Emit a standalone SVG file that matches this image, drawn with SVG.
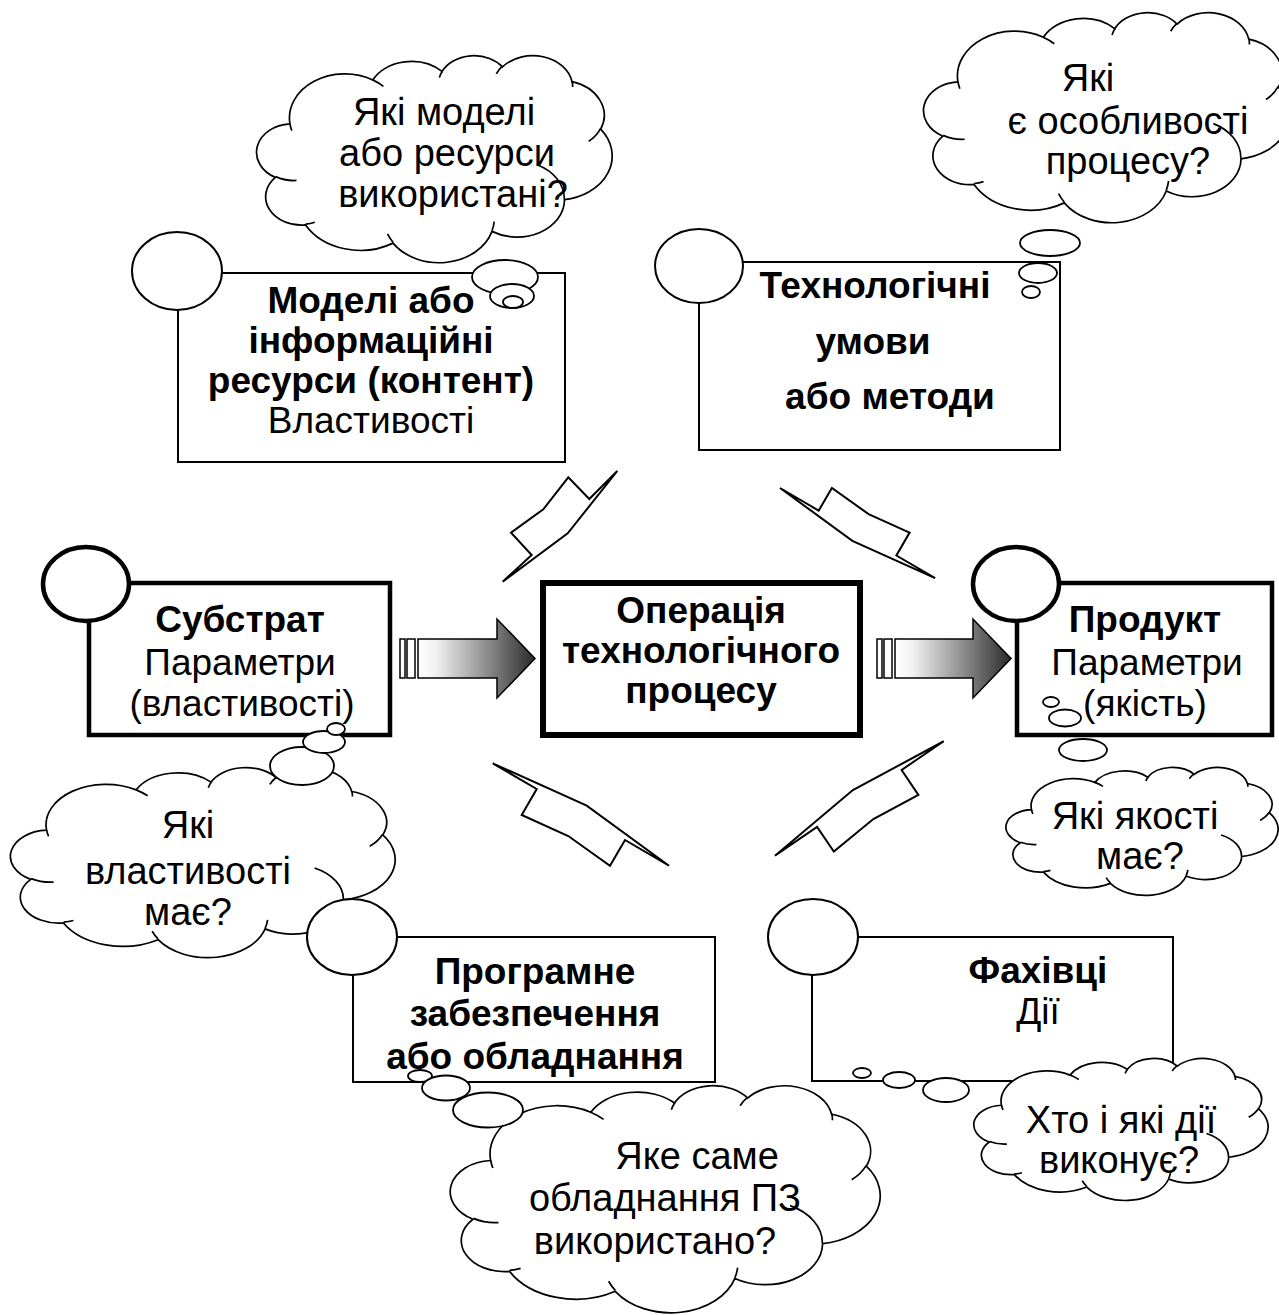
<svg xmlns="http://www.w3.org/2000/svg" xmlns:xlink="http://www.w3.org/1999/xlink" width="1279" height="1315" viewBox="0 0 1279 1315">
  <style>
    text { font-family: "Liberation Sans", Arial, sans-serif; font-size: 37px; fill: #000; text-anchor: middle; }
    .b { font-weight: bold; }
    .q { font-size: 38px; }
    .box { fill: #fff; stroke: #000; stroke-width: 2; }
    .boxT { fill: #fff; stroke: #000; stroke-width: 4.5; }
    .boxC { fill: #fff; stroke: #000; stroke-width: 6; }
    .bub { fill: #fff; stroke: #000; stroke-width: 1.8; }
    .cl { fill: #fff; stroke: #000; stroke-width: 1.7; }
    .cli { fill: none; stroke: #000; stroke-width: 1.7; }
    .bolt { fill: #fff; stroke: #000; stroke-width: 2; stroke-linejoin: miter; }
    .bar { fill: #fff; stroke: #000; stroke-width: 1.5; }
    .arr { fill: url(#arrowFill); stroke: #000; stroke-width: 1.5; }
  </style>
  <defs>
    <!-- cloud outline in a 43200 x 43200 unit box -->
    <path id="cloud" vector-effect="non-scaling-stroke" d="M3900 14370A6753 9190 0 0 1 14005 5201A5333 7267 0 0 1 22457 3431A4365 5945 0 0 1 29834 2479A4857 6595 0 0 1 38319 5573A5333 7273 0 0 1 41819 15458A6775 9220 0 0 1 37405 30200A5785 7867 0 0 1 28556 36810A6752 9215 0 0 1 16482 39263A7720 10543 0 0 1 5805 35468A4360 5918 0 0 1 2114 25545A4345 5945 0 0 1 3900 14370Z"/>
    <!-- inner hook arcs of the cloud -->
    <path id="cloudIn" vector-effect="non-scaling-stroke" d="M4693 26177A4345 5945 0 0 1 2159 25380M6928 34899A4360 5918 0 0 1 5819 35281M16478 39090A6752 9215 0 0 1 15809 37349M28827 34751A6752 9215 0 0 1 28560 36660M34129 22954A5785 7867 0 0 1 37381 30089M41798 15354A5333 7273 0 0 1 40350 18030M38324 5426A4857 6595 0 0 1 38400 6690M29078 3952A4857 6595 0 0 1 29821 2339M22141 4720A4365 5945 0 0 1 22501 3331M14000 5192A6753 9190 0 0 1 15300 6541M4127 15789A6753 9190 0 0 1 3900 14371"/>
    <linearGradient id="arrowFill" x1="0" y1="0" x2="1" y2="0">
      <stop offset="0" stop-color="#ffffff"/>
      <stop offset="0.15" stop-color="#f2f2f2"/>
      <stop offset="0.6" stop-color="#8a8a8a"/>
      <stop offset="1" stop-color="#2a2a2a"/>
    </linearGradient>
  </defs>

  <rect width="1279" height="1315" fill="#fff"/>

  <!-- connectors: lightning bolts and striped arrows -->
  <g id="connectors">
    <polygon class="bolt" points="502.7,581.7 531.7,555 511,532.7 543.3,509.3 568.3,477.3 589.3,499 617.3,471 567.7,533.3"/>
    <polygon class="bolt" points="935.1,578.1 896.4,555.5 909.6,532.6 868.6,514.1 831.9,488 818.7,510.6 780,488 852.4,540.8"/>
    <polygon class="bolt" points="492.7,763.3 536.7,789 521.7,815 568.3,836 610,865.7 625,840 669,865.7 586.7,805.7"/>
    <polygon class="bolt" transform="rotate(-4 775 856)" points="951.3,753.3 907.3,779 922.3,805 875.7,826 834,855.7 819,830 775,855.7 857.3,795.7"/>

    <g id="arrow-left">
      <rect class="bar" x="400" y="639" width="5" height="39"/>
      <rect class="bar" x="407" y="639" width="8" height="39"/>
      <path class="arr" d="M418 639H497V619L535 658.5L497 698V678H418Z"/>
    </g>
    <g id="arrow-right">
      <rect class="bar" x="877" y="639" width="5" height="39"/>
      <rect class="bar" x="884" y="639" width="8" height="39"/>
      <path class="arr" d="M895 639H973V619L1011 658.5L973 698V678H895Z"/>
    </g>
  </g>

  <!-- thought cloud: models / resources -->
  <g id="cloud-models">
    <g transform="translate(258 55) scale(0.0081944 0.0047917)">
      <use xlink:href="#cloud" class="cl"/>
      <use xlink:href="#cloudIn" class="cli"/>
    </g>
    <text class="q" x="444" y="125">Які моделі</text>
    <text class="q" x="447" y="166">або ресурси</text>
    <text class="q" x="453" y="207">використані?</text>
  </g>

  <!-- node: models or information resources -->
  <g id="node-models">
    <rect class="box" x="178" y="273" width="387" height="189"/>
    <ellipse class="box" cx="177" cy="271" rx="45" ry="39"/>
    <text class="b" x="371" y="313">Моделі або</text>
    <text class="b" x="371" y="353">інформаційні</text>
    <text class="b" x="371" y="393">ресурси (контент)</text>
    <text x="371" y="433">Властивості</text>
    <ellipse class="bub" cx="505" cy="277" rx="33" ry="17"/>
    <ellipse class="bub" cx="512" cy="296" rx="22" ry="12"/>
    <ellipse class="bub" cx="513" cy="302" rx="10" ry="6"/>
  </g>

  <!-- thought cloud: process features -->
  <g id="cloud-process">
    <g transform="translate(925 12) scale(0.0084491 0.0048611)">
      <use xlink:href="#cloud" class="cl"/>
      <use xlink:href="#cloudIn" class="cli"/>
    </g>
    <text class="q" x="1088" y="91">Які</text>
    <text class="q" x="1128" y="134">є особливості</text>
    <text class="q" x="1128" y="174">процесу?</text>
  </g>

  <!-- node: technological conditions or methods -->
  <g id="node-conditions">
    <rect class="box" x="699" y="262" width="361" height="188"/>
    <ellipse class="box" cx="699" cy="266" rx="44" ry="37"/>
    <text class="b" x="875" y="298">Технологічні</text>
    <text class="b" x="873" y="354">умови</text>
    <text class="b" x="890" y="409">або методи</text>
    <ellipse class="bub" cx="1050" cy="243" rx="30" ry="13"/>
    <ellipse class="bub" cx="1038" cy="273" rx="19" ry="10"/>
    <ellipse class="bub" cx="1031" cy="292" rx="9" ry="6"/>
  </g>

  <!-- node: substrate -->
  <g id="node-substrate">
    <rect class="boxT" x="89" y="583" width="301" height="152"/>
    <ellipse class="boxT" cx="86" cy="584" rx="43" ry="37"/>
    <text class="b" x="240" y="632">Субстрат</text>
    <text x="240" y="675">Параметри</text>
    <text x="242" y="716">(властивості)</text>
  </g>

  <!-- node: operation of the technological process -->
  <g id="node-operation">
    <rect class="boxC" x="543" y="583" width="317" height="152"/>
    <text class="b" x="701" y="623">Операція</text>
    <text class="b" x="701" y="663">технологічного</text>
    <text class="b" x="701" y="703">процесу</text>
  </g>

  <!-- node: product -->
  <g id="node-product">
    <rect class="boxT" x="1017" y="583" width="255" height="152"/>
    <ellipse class="boxT" cx="1016" cy="584" rx="43" ry="37"/>
    <text class="b" x="1145" y="632">Продукт</text>
    <text x="1147" y="675">Параметри</text>
    <text x="1145" y="716">(якість)</text>
    <ellipse class="bub" cx="1051" cy="702" rx="8" ry="5"/>
    <ellipse class="bub" cx="1065" cy="718" rx="16" ry="8.5"/>
    <ellipse class="bub" cx="1083" cy="750" rx="24" ry="11"/>
  </g>

  <!-- thought cloud: substrate properties -->
  <g id="cloud-properties">
    <g transform="translate(12 767) scale(0.0088657 0.0043981)">
      <use xlink:href="#cloud" class="cl"/>
      <use xlink:href="#cloudIn" class="cli"/>
    </g>
    <text class="q" x="188" y="838">Які</text>
    <text class="q" x="188" y="884">властивості</text>
    <text class="q" x="188" y="925">має?</text>
  </g>
  <g id="bubbles-substrate">
    <ellipse class="bub" cx="302" cy="766" rx="32" ry="19"/>
    <ellipse class="bub" cx="324" cy="742" rx="21" ry="11"/>
    <ellipse class="bub" cx="336" cy="729" rx="9" ry="6"/>
  </g>

  <!-- thought cloud: product qualities -->
  <g id="cloud-qualities">
    <g transform="translate(1007 767) scale(0.0062731 0.002963)">
      <use xlink:href="#cloud" class="cl"/>
      <use xlink:href="#cloudIn" class="cli"/>
    </g>
    <text class="q" x="1135" y="829">Які якості</text>
    <text class="q" x="1140" y="869">має?</text>
  </g>

  <!-- node: software or equipment -->
  <g id="node-software">
    <rect class="box" x="353" y="937" width="362" height="145"/>
    <ellipse class="box" cx="352" cy="937" rx="45" ry="38"/>
    <text class="b" x="535" y="984">Програмне</text>
    <text class="b" x="535" y="1026">забезпечення</text>
    <text class="b" x="535" y="1069">або обладнання</text>
  </g>

  <!-- node: specialists -->
  <g id="node-specialists">
    <rect class="box" x="812" y="937" width="361" height="144"/>
    <ellipse class="box" cx="813" cy="937" rx="45" ry="38"/>
    <text class="b" x="1038" y="983">Фахівці</text>
    <text x="1038" y="1024">Дії</text>
  </g>

  <!-- thought cloud: equipment used -->
  <g id="cloud-equipment">
    <g transform="translate(452 1085) scale(0.0099074 0.0052546)">
      <use xlink:href="#cloud" class="cl"/>
      <use xlink:href="#cloudIn" class="cli"/>
    </g>
    <text class="q" x="697" y="1169">Яке саме</text>
    <text class="q" x="665" y="1211">обладнання ПЗ</text>
    <text class="q" x="655" y="1254">використано?</text>
    <ellipse class="bub" cx="420" cy="1076" rx="12" ry="6"/>
    <ellipse class="bub" cx="446" cy="1088" rx="24" ry="12.5"/>
    <ellipse class="bub" cx="488" cy="1110" rx="35" ry="17.5"/>
  </g>

  <!-- thought cloud: who acts -->
  <g id="cloud-actions">
    <g transform="translate(975 1058) scale(0.0067824 0.003287)">
      <use xlink:href="#cloud" class="cl"/>
      <use xlink:href="#cloudIn" class="cli"/>
    </g>
    <text class="q" x="1121" y="1133">Хто і які дії</text>
    <text class="q" x="1119" y="1173">виконує?</text>
    <ellipse class="bub" cx="862" cy="1073" rx="9" ry="5"/>
    <ellipse class="bub" cx="899" cy="1080" rx="16" ry="8"/>
    <ellipse class="bub" cx="946" cy="1090" rx="23" ry="12"/>
  </g>
</svg>
